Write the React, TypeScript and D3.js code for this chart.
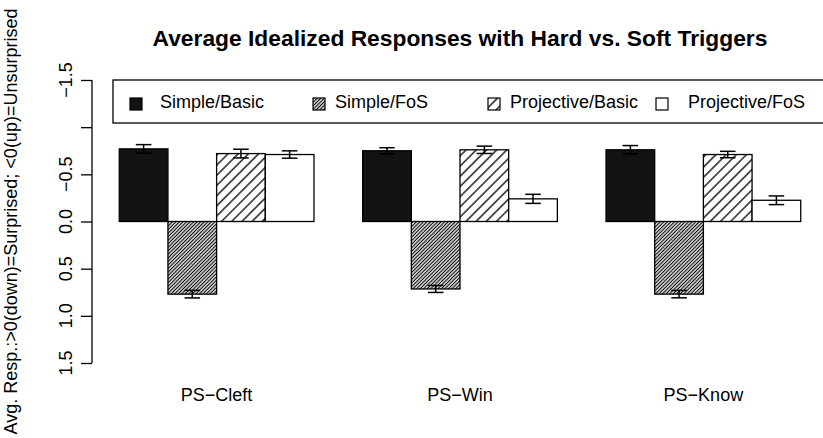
import React, { useEffect, useRef } from 'react';
import * as d3 from 'd3';

// categories and series
const groups = ['PS\u2212Cleft', 'PS\u2212Win', 'PS\u2212Know'];
const seriesNames = ['Simple/Basic', 'Simple/FoS', 'Projective/Basic', 'Projective/FoS'];

// mean responses (negative = up = unsurprised)
const simpleBasic = [-0.77, -0.75, -0.76];
const simpleFoS = [0.77, 0.715, 0.77];
const projBasic = [-0.72, -0.76, -0.71];
const projFoS = [-0.71, -0.24, -0.225];

// half-width of the error bars
const errSimpleBasic = [0.045, 0.032, 0.045];
const errSimpleFoS = [0.04, 0.037, 0.039];
const errProjBasic = [0.046, 0.039, 0.034];
const errProjFoS = [0.039, 0.048, 0.046];

const yTicks = [-1.5, -1, -0.5, 0, 0.5, 1, 1.5];
const yTickLabels = ['\u22121.5', '', '\u22120.5', '0.0', '0.5', '1.0', '1.5'];

const W = 823;
const H = 438;
const FONT = '"Liberation Sans", Arial, Helvetica, sans-serif';

const App: React.FC = () => {
  const ref = useRef<SVGSVGElement | null>(null);

  useEffect(() => {
    if (!ref.current) return;
    const svg = d3.select(ref.current);
    svg.selectAll('*').remove();
    svg.attr('width', W).attr('height', H);

    const values = [simpleBasic, simpleFoS, projBasic, projFoS];
    const errs = [errSimpleBasic, errSimpleFoS, errProjBasic, errProjFoS];

    // R-style barplot units: each bar is 1 unit, 1 unit gap before each group
    const x = d3.scaleLinear().domain([0.44, 15.56]).range([92, 828]);
    const y = d3.scaleLinear().domain([-1.5, 1.5]).range([80, 363]);

    // hatch patterns
    const defs = svg.append('defs');
    const hatch = (id: string, step: number, sw: number) => {
      const p = defs.append('pattern')
        .attr('id', id)
        .attr('patternUnits', 'userSpaceOnUse')
        .attr('width', step)
        .attr('height', step)
        .attr('patternTransform', 'rotate(45)');
      p.append('rect').attr('width', step).attr('height', step).attr('fill', '#fff');
      p.append('line')
        .attr('x1', step / 2).attr('x2', step / 2)
        .attr('y1', -1).attr('y2', step + 1)
        .attr('stroke', '#000').attr('stroke-width', sw);
    };
    hatch('hSB', 1.4, 1.3);
    hatch('hSF', 2.5, 1.2);
    hatch('hPB', 7.2, 1.3);
    const fills = ['url(#hSB)', 'url(#hSF)', 'url(#hPB)', '#fff'];

    // bars
    const g = svg.append('g');
    groups.forEach((_, gi) => {
      values.forEach((vals, si) => {
        const u = 1 + gi * 5 + si;
        const v = vals[gi];
        g.append('rect')
          .attr('x', x(u))
          .attr('y', Math.min(y(0), y(v)))
          .attr('width', x(u + 1) - x(u))
          .attr('height', Math.abs(y(v) - y(0)))
          .attr('fill', fills[si])
          .attr('stroke', '#000')
          .attr('stroke-width', 1.3);
      });
    });

    // error bars
    groups.forEach((_, gi) => {
      values.forEach((vals, si) => {
        const cx = x(1 + gi * 5 + si + 0.5);
        const v = vals[gi];
        const e = errs[si][gi];
        const capW = (x(1) - x(0)) * 0.16;
        const eg = g.append('g').attr('stroke', '#000').attr('stroke-width', 1.5);
        eg.append('line').attr('x1', cx).attr('x2', cx).attr('y1', y(v - e)).attr('y2', y(v + e));
        eg.append('line').attr('x1', cx - capW).attr('x2', cx + capW).attr('y1', y(v - e)).attr('y2', y(v - e));
        eg.append('line').attr('x1', cx - capW).attr('x2', cx + capW).attr('y1', y(v + e)).attr('y2', y(v + e));
      });
    });

    // y axis
    const ax = svg.append('g')
      .attr('transform', 'translate(92,0)')
      .call(d3.axisLeft(y).tickValues(yTicks).tickSize(11).tickFormat(() => ''));
    ax.select('.domain').attr('d', `M0,${y(-1.5)}V${y(1.5)}`).attr('stroke-width', 1.3);
    ax.selectAll('.tick line').attr('stroke-width', 1.3);
    yTicks.forEach((t, i) => {
      svg.append('text')
        .attr('transform', `translate(72,${y(t)}) rotate(-90)`)
        .attr('text-anchor', 'middle')
        .attr('font-family', FONT)
        .attr('font-size', 18)
        .text(yTickLabels[i]);
    });

    // y title
    svg.append('text')
      .attr('transform', `translate(17,${y(0)}) rotate(-90)`)
      .attr('text-anchor', 'middle')
      .attr('font-family', FONT)
      .attr('font-size', 18)
      .text('Avg. Resp.:>0(down)=Surprised; <0(up)=Unsurprised');

    // group labels
    groups.forEach((name, gi) => {
      svg.append('text')
        .attr('x', x(1 + gi * 5 + 2))
        .attr('y', 401)
        .attr('text-anchor', 'middle')
        .attr('font-family', FONT)
        .attr('font-size', 18)
        .text(name);
    });

    // title
    svg.append('text')
      .attr('x', (92 + 828) / 2)
      .attr('y', 46)
      .attr('text-anchor', 'middle')
      .attr('font-family', FONT)
      .attr('font-size', 22.8)
      .attr('font-weight', 'bold')
      .text('Average Idealized Responses with Hard vs. Soft Triggers');

    // legend
    svg.append('rect')
      .attr('x', 113).attr('y', 80)
      .attr('width', 740).attr('height', 43)
      .attr('fill', 'none').attr('stroke', '#000').attr('stroke-width', 1.3);
    const boxX = [130, 313, 488, 656];
    const textX = [160, 335, 510, 688];
    seriesNames.forEach((name, si) => {
      svg.append('rect')
        .attr('x', boxX[si]).attr('y', 98)
        .attr('width', 12).attr('height', 12)
        .attr('fill', fills[si])
        .attr('stroke', '#000').attr('stroke-width', 1.2);
      svg.append('text')
        .attr('x', textX[si]).attr('y', 108)
        .attr('font-family', FONT)
        .attr('font-size', 18)
        .text(name);
    });
  }, []);

  return (
    <svg ref={ref} style={{ position: 'absolute', left: 0, top: 0, background: '#fff' }} />
  );
};

export default App;
